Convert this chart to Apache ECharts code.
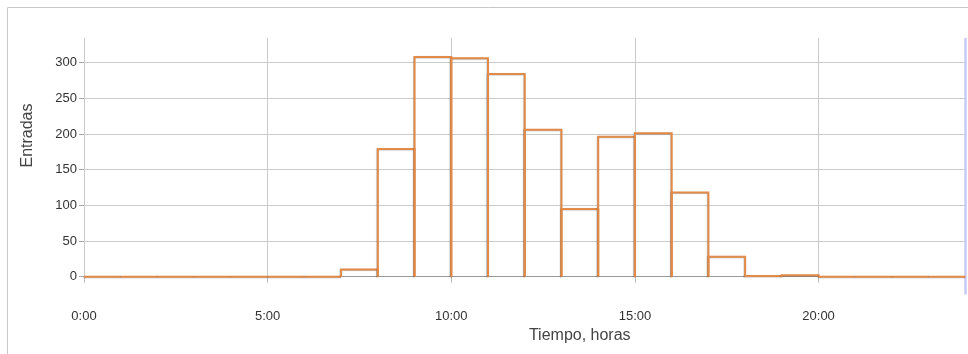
<!DOCTYPE html>
<html>
<head>
<meta charset="utf-8">
<script src="https://cdn.jsdelivr.net/npm/echarts@6/dist/echarts.min.js"></script>
<style>
  html, body { margin: 0; padding: 0; background: #fff; }
  #chart { width: 968px; height: 354px; }
</style>
</head>
<body>
<div id="chart"></div>
<script>
// Hour bins (start hour of each one-hour bin)
const horaInicio = [0,1,2,3,4,5,6,7,8,9,10,11,12,13,14,15,16,17,18,19,20,21,22,23];
// Entries per hour
const entradas = [0,0,0,0,0,0,0,10,179,308,306,284,206,95,196,201,118,28,1,2,0,0,0,0];
// Tick values / labels
const xTicks = [0,5,10,15,20];
const xTickLabels = ['0:00','5:00','10:00','15:00','20:00'];
const yTicks = [0,50,100,150,200,250,300];

const FONT = '"Liberation Sans", Arial, sans-serif';
const ORANGE = '#E28A47';

const chart = echarts.init(document.getElementById('chart'), null, {renderer: 'canvas'});

const barData = horaInicio.map((h, i) => [h, h + 1, entradas[i]]);

chart.setOption({
  animation: false,
  backgroundColor: '#fff',
  graphic: [{
    type: 'rect', silent: true, z: 0,
    shape: {x: 7.5, y: 7.5, width: 1000, height: 400},
    style: {fill: 'none', stroke: '#c8c8c8', lineWidth: 1}
  }],
  grid: {left: 84, right: 2.5, top: 38, bottom: 71, containLabel: false},
  xAxis: {
    type: 'value', min: 0, max: 24,
    offset: 13,
    axisLine: {show: false},
    axisTick: {show: true, length: 5, customValues: xTicks, lineStyle: {color: '#bbb'}},
    axisLabel: {
      customValues: xTicks,
      formatter: v => xTickLabels[xTicks.indexOf(v)],
      margin: 14, fontFamily: FONT, fontSize: 13, color: '#333'
    },
    splitLine: {show: true, lineStyle: {color: '#cbcbcb', width: 1}},
    name: 'Tiempo, horas',
    nameLocation: 'middle', nameGap: 23,
    nameTextStyle: {fontFamily: FONT, fontSize: 16, color: '#444', padding: [0,0,0,110]}
  },
  yAxis: {
    type: 'value', min: -8.8, max: 334.5,
    axisLine: {show: false},
    axisTick: {show: true, length: 5, customValues: yTicks, lineStyle: {color: '#aaa'}},
    axisLabel: {customValues: yTicks, margin: 7, fontFamily: FONT, fontSize: 13, color: '#333'},
    splitLine: {show: true, lineStyle: {color: '#cbcbcb', width: 1}},
    name: 'Entradas',
    nameLocation: 'middle', nameGap: 48, nameRotate: 90,
    nameTextStyle: {fontFamily: FONT, fontSize: 16, color: '#444', padding: [0,0,0,50]}
  },
  series: [
    {
      type: 'line', data: [], z: 1, silent: true,
      markLine: {
        z: 1,
        silent: true, symbol: 'none', label: {show: false},
        lineStyle: {color: '#999', width: 1, type: 'solid'},
        data: [{yAxis: 0}]
      }
    },
    {
      type: 'line', z: 1, silent: true, clip: false,
      data: [[24, -25], [24, 334.5]],
      symbol: 'none',
      lineStyle: {color: '#c9c9fa', width: 2.5}
    },
    {
      type: 'custom', z: 6, clip: false,
      data: barData,
      encode: {x: [0, 1], y: 2},
      renderItem: function (params, api) {
        const x0 = api.value(0), x1 = api.value(1), v = api.value(2);
        const p0 = api.coord([x0, 0]);
        const p1 = api.coord([x0, v]);
        const p2 = api.coord([x1, v]);
        const p3 = api.coord([x1, 0]);
        return {
          type: 'polyline',
          shape: {points: [p0, p1, p2, p3]},
          style: {
            fill: null, stroke: ORANGE, lineWidth: 2,
            shadowColor: 'rgba(0,0,0,0.25)', shadowBlur: 1, shadowOffsetX: -0.5, shadowOffsetY: 0.5
          }
        };
      }
    }
  ]
});
</script>
</body>
</html>
